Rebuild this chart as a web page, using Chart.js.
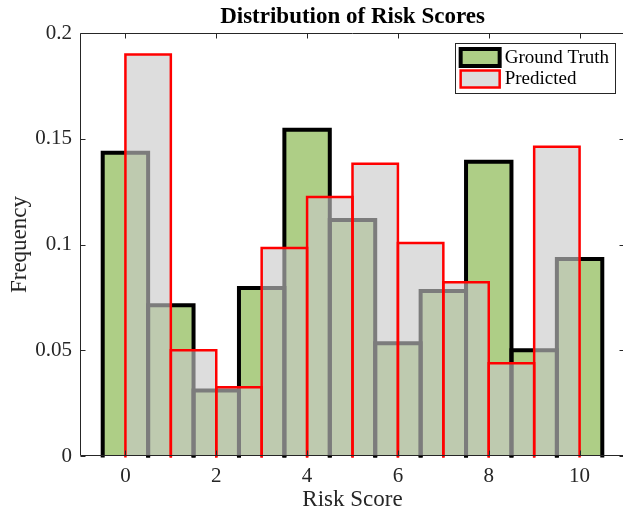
<!DOCTYPE html>
<html><head><meta charset="utf-8">
<script src="https://cdn.jsdelivr.net/npm/chart.js@4/dist/chart.umd.min.js"></script>
<style>
html,body{margin:0;padding:0;overflow:hidden;background:#fff;width:623px;height:514px;}
#wrap{position:absolute;left:0;top:0;width:640px;height:514px;}
canvas{display:block;}
</style></head><body>
<div id="wrap"><canvas id="c" width="640" height="514" style="width:640px;height:514px"></canvas></div>
<script>
const chartTitle = 'Distribution of Risk Scores';
const xLabel = 'Risk Score';
const yLabel = 'Frequency';
const seriesNames = ['Ground Truth', 'Predicted'];
const gtCenters = [0, 1, 2, 3, 4, 5, 6, 7, 8, 9, 10];
const gtValues = [0.1434, 0.0713, 0.0310, 0.0794, 0.1543, 0.1116, 0.0533, 0.0780, 0.1391, 0.0500, 0.0931];
const predCenters = [0.5, 1.5, 2.5, 3.5, 4.5, 5.5, 6.5, 7.5, 8.5, 9.5];
const predValues = [0.1898, 0.0500, 0.0325, 0.0983, 0.1225, 0.1382, 0.1007, 0.0822, 0.0438, 0.1462];
const xTicks = [0, 2, 4, 6, 8, 10];
const yTicks = [0, 0.05, 0.1, 0.15, 0.2];
const yTickLabels = ['0', '0.05', '0.1', '0.15', '0.2'];
const xRange = [-1, 11];
const yRange = [0, 0.2];

const AX = 'rgb(38,38,38)';
const FONT = "'Liberation Serif', 'Times New Roman', serif";

const edgePlugin = {
  id: 'edges',
  afterDatasetDraw(chart, args, opts) {
    const ctx = chart.ctx;
    const i = args.index;
    ctx.save();
    ctx.lineWidth = opts.widths[i];
    ctx.strokeStyle = opts.colors[i];
    ctx.lineJoin = 'miter';
    ctx.lineCap = 'butt';
    args.meta.data.forEach(bar => {
      const p = bar.getProps(['x', 'y', 'base', 'width'], true);
      const l = p.x - p.width / 2, r = p.x + p.width / 2;
      const b = p.base + 1.5;
      ctx.beginPath();
      ctx.moveTo(l, b); ctx.lineTo(l, p.y); ctx.lineTo(r, p.y); ctx.lineTo(r, b);
      ctx.stroke();
    });
    ctx.restore();
  }
};

const boxPlugin = {
  id: 'box',
  afterDatasetsDraw(chart) {
    const ctx = chart.ctx, a = chart.chartArea;
    const xs = chart.scales.x, ys = chart.scales.y;
    const L = Math.round(a.left) + 0.5, R = Math.round(a.right) - 0.5;
    const T = Math.round(a.top) + 0.5, B = Math.round(a.bottom) - 0.5;
    ctx.save();
    ctx.strokeStyle = AX; ctx.lineWidth = 1;
    ctx.beginPath();
    ctx.rect(L, T, R - L, B - T);
    const tl = 5;
    xTicks.forEach(v => {
      const px = Math.round(xs.getPixelForValue(v)) + 0.5;
      ctx.moveTo(px, B); ctx.lineTo(px, B - tl);
      ctx.moveTo(px, T); ctx.lineTo(px, T + tl);
    });
    yTicks.forEach(v => {
      const py = Math.round(ys.getPixelForValue(v)) + 0.5;
      ctx.moveTo(L, py); ctx.lineTo(L + tl, py);
      ctx.moveTo(R, py); ctx.lineTo(R - tl, py);
    });
    ctx.stroke();
    ctx.restore();
  }
};

const legendPlugin = {
  id: 'boxLegend',
  afterDraw(chart, args, opts) {
    const ctx = chart.ctx, a = chart.chartArea;
    ctx.save();
    ctx.font = opts.fontSize + 'px ' + FONT;
    const tw = Math.max(...seriesNames.map(s => ctx.measureText(s).width));
    const swW = 43, swH = 17, rowH = 21.5;
    const w = 4 + swW + 3 + tw + 6;
    const h = 7 + rowH * seriesNames.length + 0;
    const right = a.right - 10, top = a.top + 10;
    const left = right - w;
    ctx.fillStyle = '#fff';
    ctx.fillRect(left, top, w, h);
    ctx.strokeStyle = AX; ctx.lineWidth = 1;
    ctx.strokeRect(Math.round(left) + 0.5, Math.round(top) + 0.5, Math.round(w), Math.round(h));
    chart.data.datasets.forEach((ds, i) => {
      const cy = top + 14.5 + i * rowH;
      const sx = left + 4 + 2, sy = cy - swH / 2;
      ctx.fillStyle = ds.backgroundColor;
      ctx.fillRect(sx, sy, swW - 4, swH);
      ctx.lineWidth = opts.widths[i];
      ctx.strokeStyle = opts.colors[i];
      ctx.strokeRect(sx, sy, swW - 4, swH);
      ctx.fillStyle = '#000';
      ctx.textBaseline = 'middle';
      ctx.textAlign = 'left';
      ctx.fillText(ds.label, left + 4 + swW + 3, cy + 0.5);
    });
    ctx.restore();
  }
};

const fixTicks = (vals) => (scale) => { scale.ticks = vals.map(v => ({ value: v })); };

new Chart(document.getElementById('c'), {
  type: 'bar',
  data: {
    datasets: [
      {
        label: seriesNames[0],
        data: gtCenters.map((x, i) => ({ x: x, y: gtValues[i] })),
        backgroundColor: 'rgb(174,206,134)',
        borderWidth: 0,
        xAxisID: 'x',
        order: 1,
        barPercentage: 1, categoryPercentage: 1
      },
      {
        label: seriesNames[1],
        data: predCenters.map((x, i) => ({ x: x, y: predValues[i] })),
        backgroundColor: 'rgba(200,200,200,0.62)',
        borderWidth: 0,
        xAxisID: 'x2',
        order: 0,
        barPercentage: 1, categoryPercentage: 1
      }
    ]
  },
  options: {
    responsive: false,
    animation: false,
    devicePixelRatio: 1,
    grouped: false,
    layout: { padding: { left: 0, right: 15, top: 0, bottom: 0 } },
    plugins: {
      legend: { display: false },
      tooltip: { enabled: false },
      title: {
        display: true, text: chartTitle, color: '#000', fullSize: false,
        font: { family: FONT, size: 23, weight: 'bold', lineHeight: 1.2 },
        padding: { top: 3, bottom: 2.4 }
      },
      edges: { widths: [4, 2.5], colors: ['#000', 'rgb(255,0,0)'] },
      boxLegend: { fontSize: 19, widths: [4, 2.5], colors: ['#000', 'rgb(255,0,0)'] }
    },
    scales: {
      x: {
        type: 'linear', min: xRange[0], max: xRange[1], offset: false,
        afterBuildTicks: fixTicks(xTicks),
        afterFit: (s) => { s.height = 58; },
        grid: { display: false, drawTicks: false, tickLength: 0, offset: false },
        border: { display: false },
        ticks: { color: AX, font: { family: FONT, size: 21 }, padding: 8, maxRotation: 0,
                 callback: (v) => String(v) },
        title: { display: true, text: xLabel, color: AX, font: { family: FONT, size: 23, lineHeight: 1.2 },
                 padding: { top: 0, bottom: 0 } }
      },
      x2: {
        type: 'linear', min: xRange[0], max: xRange[1], display: false, offset: false,
        grid: { offset: false },
        afterBuildTicks: fixTicks(xTicks)
      },
      y: {
        type: 'linear', min: yRange[0], max: yRange[1],
        afterBuildTicks: fixTicks(yTicks),
        afterFit: (s) => { s.width = 80; },
        grid: { display: false, drawTicks: false, tickLength: 0 },
        border: { display: false },
        ticks: { color: AX, font: { family: FONT, size: 21 }, padding: 8,
                 callback: (v) => yTickLabels[yTicks.indexOf(v)] ?? String(v) },
        title: { display: true, text: yLabel, color: AX, font: { family: FONT, size: 23, lineHeight: 1.2 },
                 padding: { top: 6, bottom: 0 } }
      }
    }
  },
  plugins: [edgePlugin, boxPlugin, legendPlugin]
});
</script>
</body></html>
